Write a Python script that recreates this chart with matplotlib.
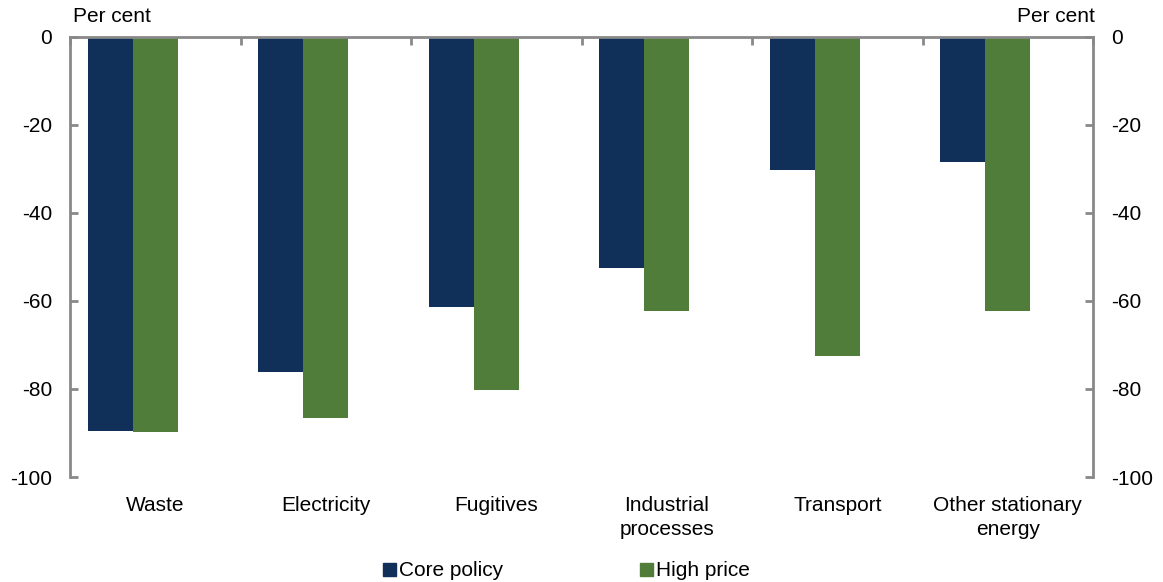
import numpy as np
import matplotlib.pyplot as plt
from matplotlib.patches import Patch

plt.rcParams['font.family'] = ['Liberation Sans', 'DejaVu Sans']
plt.rcParams['font.size'] = 15
plt.rcParams['axes.unicode_minus'] = False

# 데이터
categories = ["Waste", "Electricity", "Fugitives", "Industrial\nprocesses",
              "Transport", "Other stationary\nenergy"]
core_policy = [-89.5, -76.1, -61.4, -52.5, -30.2, -28.4]
high_price = [-89.7, -86.6, -80.2, -62.3, -72.5, -62.3]

core_col = "#10305a"
high_col = "#507e3a"
grey = "#898989"

fig = plt.figure(figsize=(11.63, 5.82), dpi=100)
ax = fig.add_axes([70 / 1163, 1 - 477 / 582, 1023 / 1163, 440 / 582])

x = np.arange(len(categories))
w = 0.264
ax.bar(x - w, core_policy, w, color=core_col, linewidth=0)
ax.bar(x, high_price, w, color=high_col, linewidth=0)

ax.set_xlim(-0.5, len(categories) - 0.5)
ax.set_ylim(-100, 0)
ax.set_yticks([0, -20, -40, -60, -80, -100])

# x축은 0 위치(위쪽)에, 범주 경계에 눈금
ax.spines['bottom'].set_visible(False)
for s in ['top', 'left', 'right']:
    ax.spines[s].set_color(grey)
    ax.spines[s].set_linewidth(2)

ax.set_xticks(x)
ax.set_xticklabels(categories, linespacing=1.3)
ax.tick_params(axis='x', length=0, pad=14)
ax.set_xticks(np.arange(len(categories) + 1) - 0.5, minor=True)
ax.tick_params(axis='x', which='minor', top=True, bottom=False, direction='in',
               length=6, width=2, color=grey)

ax.tick_params(axis='y', direction='in', length=6, width=2, color=grey, pad=13,
               left=True, right=True, labelleft=True, labelright=True)

fig.text(73 / 1163, 1 - 17 / 582, "Per cent", ha='left', va='center')
fig.text(1095 / 1163, 1 - 17 / 582, "Per cent", ha='right', va='center')

handles = [Patch(color=core_col, label="Core policy"),
           Patch(color=high_col, label="High price")]
fig.legend(handles=handles, loc='center', bbox_to_anchor=(0.487, 1 - 571 / 582),
           ncol=2, frameon=False, handlelength=0.6, handleheight=0.6,
           handletextpad=0.15, columnspacing=6.6)

fig.savefig("out.png", dpi=100)
